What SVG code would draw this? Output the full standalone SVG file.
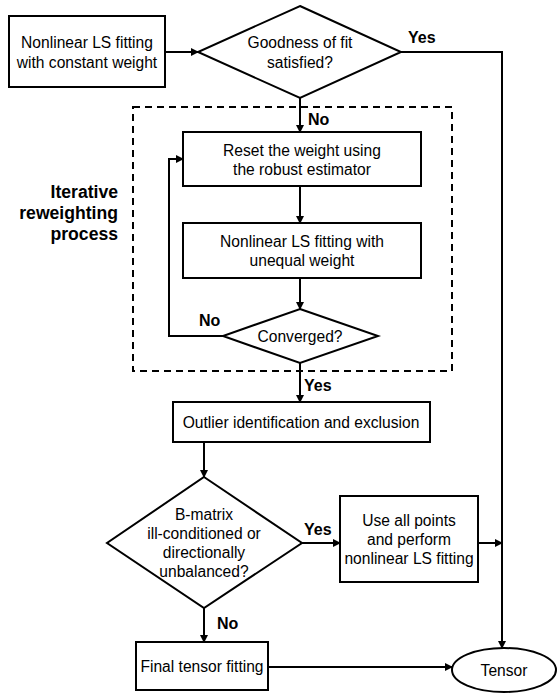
<svg xmlns="http://www.w3.org/2000/svg" width="558" height="694" viewBox="0 0 558 694">
<style>
.s{fill:#fff;stroke:#000;stroke-width:2}
.t{font-family:"Liberation Sans",Arial,sans-serif;font-size:15.6px;fill:#000;text-anchor:middle}
.b{font-family:"Liberation Sans",Arial,sans-serif;font-size:16px;font-weight:bold;fill:#000}
.c{fill:none;stroke:#000;stroke-width:2}
</style>
<defs>
<marker id="a" markerWidth="8" markerHeight="8" refX="7" refY="4" orient="auto" markerUnits="userSpaceOnUse">
<path d="M0,0 L8,4 L0,8 Z" fill="#000"/>
</marker>
</defs>
<rect x="133" y="107" width="319" height="264" fill="none" stroke="#000" stroke-width="2" stroke-dasharray="7,5"/>
<text class="b" x="118" y="198" text-anchor="end" style="font-size:17.6px">Iterative</text>
<text class="b" x="118" y="219" text-anchor="end" style="font-size:17.6px">reweighting</text>
<text class="b" x="118" y="240" text-anchor="end" style="font-size:17.6px">process</text>
<g id="connectors">
<line class="c" x1="165" y1="52" x2="198" y2="52" marker-end="url(#a)"/>
<polyline class="c" points="401,52 502,52 502,648" marker-end="url(#a)"/>
<line class="c" x1="300" y1="98" x2="300" y2="132" marker-end="url(#a)"/>
<line class="c" x1="300" y1="186" x2="300" y2="223" marker-end="url(#a)"/>
<line class="c" x1="300" y1="278" x2="300" y2="309" marker-end="url(#a)"/>
<polyline class="c" points="223,336 169,336 169,159 183,159" marker-end="url(#a)"/>
<line class="c" x1="300" y1="363" x2="300" y2="402" marker-end="url(#a)"/>
<line class="c" x1="204" y1="442" x2="204" y2="477" marker-end="url(#a)"/>
<line class="c" x1="302" y1="543" x2="340" y2="543" marker-end="url(#a)"/>
<line class="c" x1="478" y1="543" x2="502" y2="543" marker-end="url(#a)"/>
<line class="c" x1="204" y1="608" x2="204" y2="642" marker-end="url(#a)"/>
<line class="c" x1="268" y1="667" x2="452" y2="667" marker-end="url(#a)"/>
<text class="b" x="408" y="43">Yes</text>
<text class="b" x="308" y="125">No</text>
<text class="b" x="199" y="326">No</text>
<text class="b" x="304" y="391">Yes</text>
<text class="b" x="304" y="535">Yes</text>
<text class="b" x="217" y="629">No</text>
</g>
<g id="n1">
<rect class="s" x="9" y="16" width="156" height="71"/>
<text class="t" x="87" y="48">Nonlinear LS fitting</text>
<text class="t" x="87" y="68">with constant weight</text>
</g>
<g id="n2">
<polygon class="s" points="300,6 401,52 300,98 198,52"/>
<text class="t" x="300" y="48">Goodness of fit</text>
<text class="t" x="300" y="68">satisfied?</text>
</g>
<g id="n3">
<rect class="s" x="183" y="132" width="238" height="54"/>
<text class="t" x="302" y="156">Reset the weight using</text>
<text class="t" x="302" y="175">the robust estimator</text>
</g>
<g id="n4">
<rect class="s" x="183" y="223" width="238" height="55"/>
<text class="t" x="302" y="247">Nonlinear LS fitting with</text>
<text class="t" x="302" y="266">unequal weight</text>
</g>
<g id="n5">
<polygon class="s" points="300,309 378,336 300,363 223,336"/>
<text class="t" x="300" y="342">Converged?</text>
</g>
<g id="n6">
<rect class="s" x="173" y="402" width="257" height="40"/>
<text class="t" x="301" y="428">Outlier identification and exclusion</text>
</g>
<g id="n7">
<polygon class="s" points="204,477 302,543 204,608 107,543"/>
<text class="t" x="204" y="520">B-matrix</text>
<text class="t" x="204" y="539">ill-conditioned or</text>
<text class="t" x="204" y="558">directionally</text>
<text class="t" x="204" y="577">unbalanced?</text>
</g>
<g id="n8">
<rect class="s" x="340" y="496" width="138" height="86"/>
<text class="t" x="409" y="526">Use all points</text>
<text class="t" x="409" y="545">and perform</text>
<text class="t" x="409" y="564">nonlinear LS fitting</text>
</g>
<g id="n9">
<rect class="s" x="136" y="642" width="132" height="48"/>
<text class="t" x="202" y="672">Final tensor fitting</text>
</g>
<g id="n10">
<ellipse class="s" cx="504" cy="670" rx="52" ry="22"/>
<text class="t" x="504" y="676">Tensor</text>
</g>
</svg>
